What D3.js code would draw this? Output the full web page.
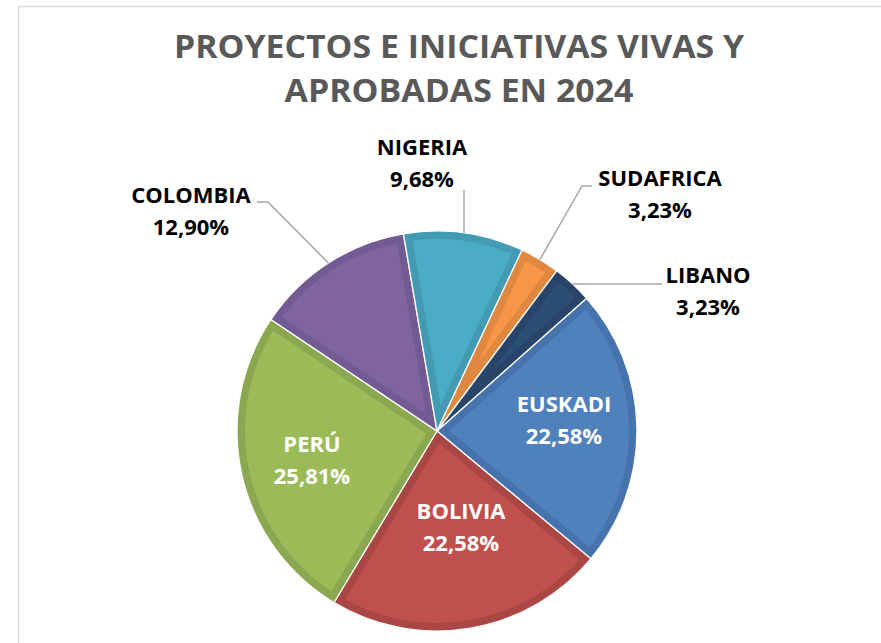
<!DOCTYPE html>
<html>
<head>
<meta charset="utf-8">
<script src="https://cdn.jsdelivr.net/npm/d3@7"></script>
<style>
  body { margin: 0; background: #fff; }
  text { font-family: "Open Sans", sans-serif; font-weight: bold; }
</style>
</head>
<body>
<script>
// datos del gráfico
var paises = ["EUSKADI", "BOLIVIA", "PERÚ", "COLOMBIA", "NIGERIA", "SUDAFRICA", "LIBANO"];
var proyectos = [7, 7, 8, 4, 3, 1, 1];
var porcentajes = ["22,58%", "22,58%", "25,81%", "12,90%", "9,68%", "3,23%", "3,23%"];
var titulo = ["PROYECTOS E INICIATIVAS VIVAS Y", "APROBADAS EN 2024"];

var coresFundo = ["#4f81bd", "#c0504d", "#9bbb59", "#8064a2", "#4bacc6", "#f79646", "#2c4d75"];
var coresBorda = ["#4673ab", "#aa4744", "#8aa84f", "#725a92", "#439bb3", "#e0883f", "#284569"];

var largura = 881;
var altura = 643;
var cx = 437, cy = 431, raio = 200;

var svg = d3.select("body")
            .append("svg")
            .attr("width", largura)
            .attr("height", altura);

// marco
svg.append("rect")
   .attr("x", 18.5)
   .attr("y", 6.5)
   .attr("width", 900)
   .attr("height", 700)
   .attr("fill", "none")
   .attr("stroke", "#d9d9d9")
   .attr("stroke-width", 1.5);

// título
svg.selectAll("text.titulo")
   .data(titulo)
   .enter()
   .append("text")
   .attr("class", "titulo")
   .attr("x", 459)
   .attr("y", function(d, i) { return 58 + i * 44; })
   .attr("text-anchor", "middle")
   .attr("fill", "#595959")
   .attr("font-size", 33)
   .attr("textLength", function(d, i) { return i == 0 ? 570 : 349; })
   .attr("lengthAdjust", "spacingAndGlyphs")
   .text(function(d) { return d; });

var pie = d3.pie()
            .sort(null)
            .startAngle(48.4 * Math.PI / 180)
            .endAngle((48.4 + 360) * Math.PI / 180);

var arco = d3.arc().innerRadius(0).outerRadius(raio);
var fatias = pie(proyectos);

var g = svg.append("g").attr("transform", "translate(" + cx + "," + cy + ")");

var defs = svg.append("defs");
defs.selectAll("clipPath")
    .data(fatias)
    .enter()
    .append("clipPath")
    .attr("id", function(d, i) { return "fatia" + i; })
    .append("path")
    .attr("d", arco);

var fatia = g.selectAll("g.fatia")
             .data(fatias)
             .enter()
             .append("g")
             .attr("class", "fatia");

fatia.append("path")
     .attr("d", arco)
     .attr("fill", function(d, i) { return coresFundo[i]; });

fatia.append("path")
     .attr("d", arco)
     .attr("fill", "none")
     .attr("stroke", function(d, i) { return coresBorda[i]; })
     .attr("stroke-width", 16)
     .attr("stroke-linejoin", "miter")
     .attr("clip-path", function(d, i) { return "url(#fatia" + i + ")"; });

fatia.append("path")
     .attr("d", arco)
     .attr("fill", "none")
     .attr("stroke", "#fff")
     .attr("stroke-width", 1.3);

// etiquetas: [x, y línea 1]
var posEtiquetas = [[564, 412], [461, 519], [312, 452], [191, 203], [422, 155], [660, 186], [708, 283]];
var dentro = [true, true, true, false, false, false, false];

// líneas guía
var borda = d3.arc().innerRadius(raio).outerRadius(raio);
var guias = {
  3: function(p) { return [[257, 202], [268, 202], p]; },
  4: function(p) { return [[p[0], 190], p]; },
  5: function(p) { return [[592, 186], [582, 186], p]; },
  6: function(p) { return [[662, 284], [p[0], 284], p]; }
};
fatias.forEach(function(d, i) {
  if (!guias[i]) return;
  var c = borda.centroid(d);
  var p = [c[0] + cx, c[1] + cy];
  svg.append("path")
     .attr("d", d3.line()(guias[i](p)))
     .attr("fill", "none")
     .attr("stroke", "#a6a6a6")
     .attr("stroke-width", 1.5);
});

var rot = svg.selectAll("g.rotulo")
             .data(fatias)
             .enter()
             .append("g")
             .attr("class", "rotulo");

rot.append("text")
   .attr("x", function(d, i) { return posEtiquetas[i][0]; })
   .attr("y", function(d, i) { return posEtiquetas[i][1]; })
   .attr("text-anchor", "middle")
   .attr("font-size", 22)
   .attr("fill", function(d, i) { return dentro[i] ? "#fff" : "#000"; })
   .text(function(d, i) { return paises[i]; });

rot.append("text")
   .attr("x", function(d, i) { return posEtiquetas[i][0]; })
   .attr("y", function(d, i) { return posEtiquetas[i][1] + 32; })
   .attr("text-anchor", "middle")
   .attr("font-size", 22)
   .attr("fill", function(d, i) { return dentro[i] ? "#fff" : "#000"; })
   .text(function(d, i) { return porcentajes[i]; });
</script>
</body>
</html>
